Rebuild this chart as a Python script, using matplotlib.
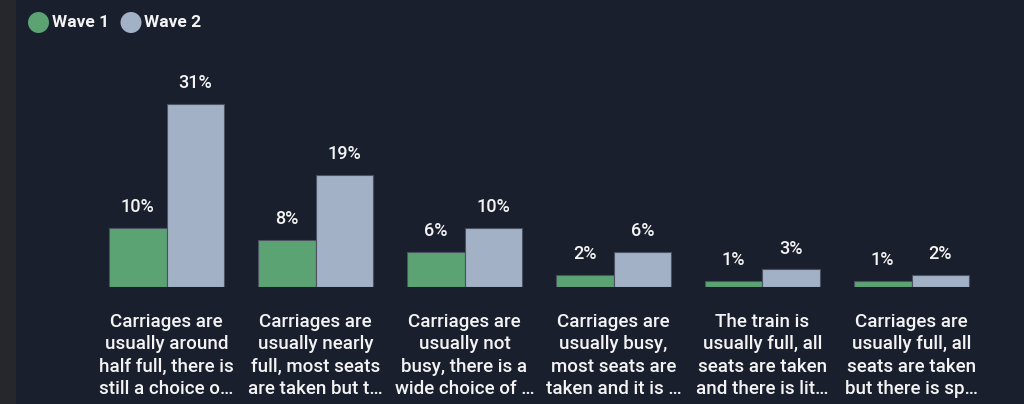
import matplotlib.pyplot as plt
import numpy as np
from matplotlib.patches import Rectangle, Ellipse

categories = [
    "Carriages are\nusually around\nhalf full, there is\nstill a choice o\u2026",
    "Carriages are\nusually nearly\nfull, most seats\nare taken but t\u2026",
    "Carriages are\nusually not\nbusy, there is a\nwide choice of \u2026",
    "Carriages are\nusually busy,\nmost seats are\ntaken and it is \u2026",
    "The train is\nusually full, all\nseats are taken\nand there is lit\u2026",
    "Carriages are\nusually full, all\nseats are taken\nbut there is sp\u2026",
]
wave1 = [10, 8, 6, 2, 1, 1]
wave2 = [31, 19, 10, 6, 3, 2]
series_names = ["Wave 1", "Wave 2"]

bg = "#1a1f2e"
green = "#5ba373"
grey = "#a2b1c6"
text_col = "#f4f4f4"
font = ["Roboto", "DejaVu Sans"]

W, H = 1024, 404
fig = plt.figure(figsize=(W / 100, H / 100), dpi=100, facecolor=bg)
# thin lighter strip on the far left
fig.patches.append(Rectangle((0, 0), 16 / W, 1, transform=fig.transFigure,
                             facecolor="#25272d", edgecolor="none", zorder=0))

ax = fig.add_axes([92 / W, (H - 287) / H, (986 - 92) / W, (287 - 60) / H])
ax.set_facecolor(bg)

x = np.arange(len(categories))
w = 0.386
b1 = ax.bar(x - w / 2, wave1, w, color=green, edgecolor="#4a5262", linewidth=0.8)
b2 = ax.bar(x + w / 2, wave2, w, color=grey, edgecolor="#4a5262", linewidth=0.8)

for bars, vals in ((b1, wave1), (b2, wave2)):
    for bar, v in zip(bars, vals):
        ax.text(bar.get_x() + bar.get_width() / 2, v + 2.0, f"{v}%",
                ha="center", va="bottom", color=text_col, fontsize=13,
                fontweight="medium", family=font)

ax.set_xlim(-0.5, len(categories) - 0.5)
ax.set_ylim(0, 227 / 5.9)
ax.set_xticks(x)
ax.set_xticklabels(categories, color=text_col, fontsize=13.5, family=font,
                   fontweight="medium", linespacing=1.29)
ax.tick_params(axis="x", length=0, pad=19)
ax.set_yticks([])
for s in ax.spines.values():
    s.set_visible(False)

# legend
for cx, tx, col, name in ((38.5, 52, green, series_names[0]),
                          (131, 144, grey, series_names[1])):
    fig.patches.append(Ellipse((cx / W, (H - 22.5) / H), 21 / W, 21 / H,
                               transform=fig.transFigure, facecolor=col,
                               edgecolor="none"))
    fig.text(tx / W, (H - 22.5) / H, name, color=text_col, fontsize=12.5,
             fontweight="bold", va="center", ha="left", family=font)

fig.savefig("out.png", dpi=100, facecolor=bg)
